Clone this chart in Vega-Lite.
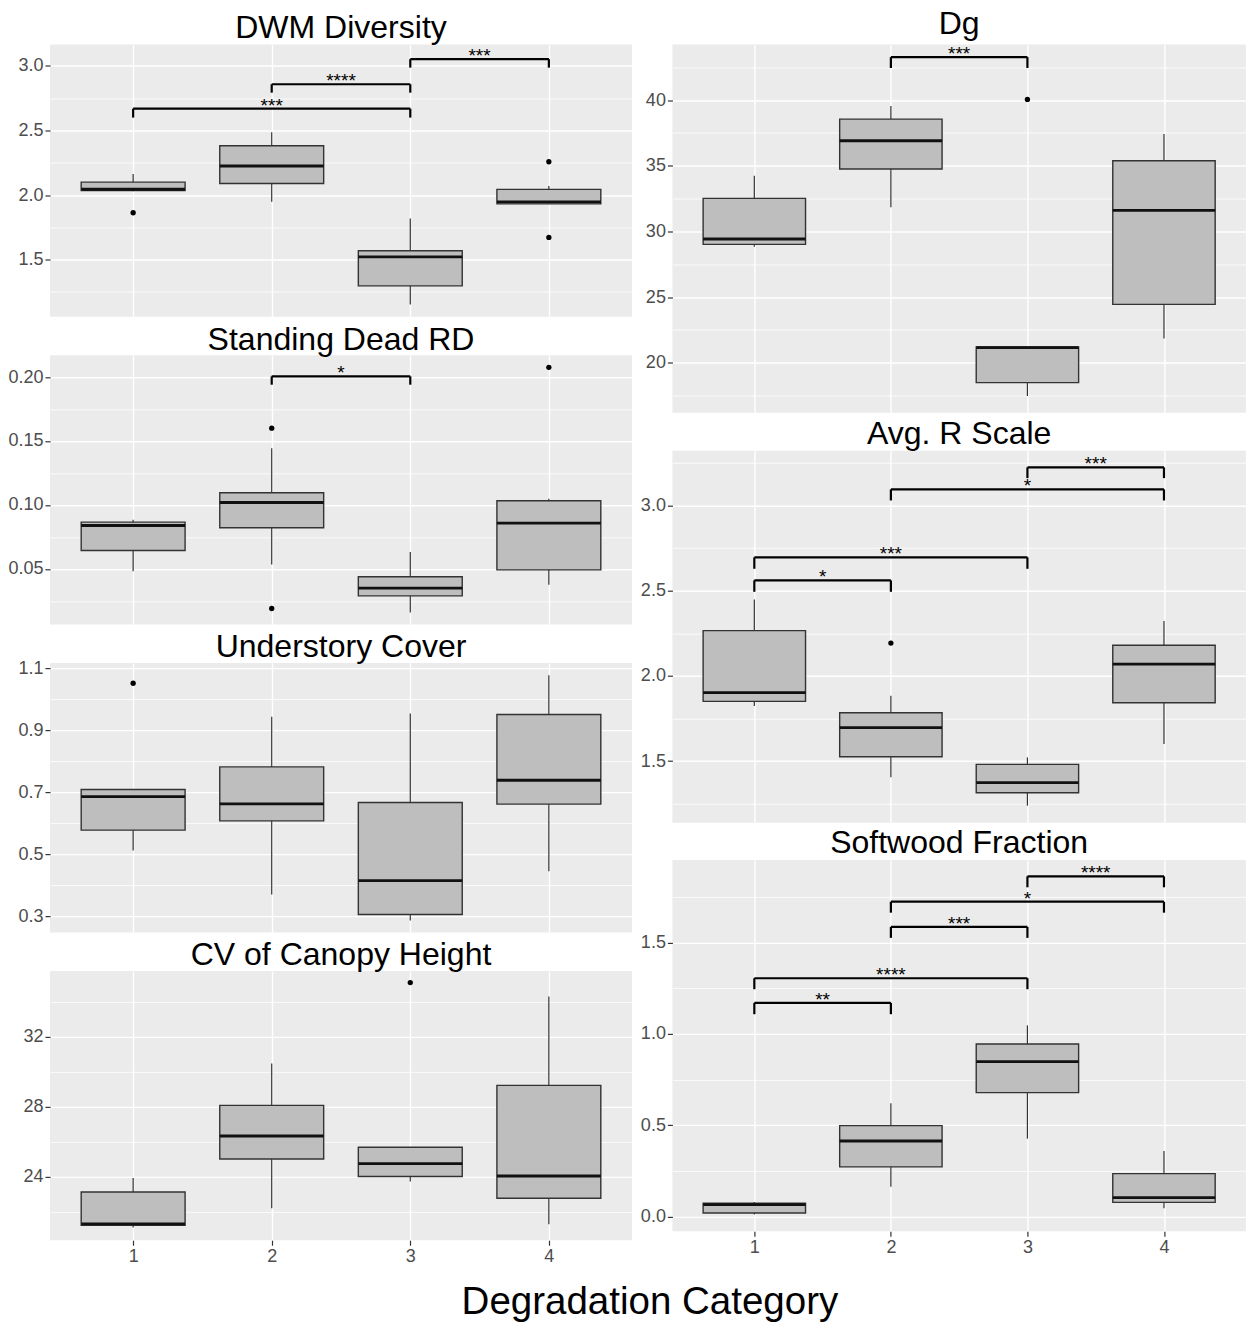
{
"$schema": "https://vega.github.io/schema/vega-lite/v6.json",
"padding": {"left": 7, "top": 7.5, "right": 2, "bottom": 0},
"title": {"text": "Degradation Category", "orient": "bottom", "fontSize": 38.5, "offset": 19, "dx": 23, "frame": "bounds", "anchor": "middle"},
"config": {
  "font": "Liberation Sans",
  "view": {"fill": "#EBEBEB", "stroke": null},
  "title": {"fontSize": 32, "fontWeight": "normal", "color": "#000000", "frame": "group", "anchor": "middle"},
  "axis": {"labelFontSize": 18, "labelColor": "#4D4D4D", "tickColor": "#333333", "tickSize": 5, "tickWidth": 1.2, "labelPadding": 2, "gridColor": "#FFFFFF", "gridWidth": 1.4, "domain": false},
  "axisLeft": {"minExtent": 37, "maxExtent": 37}
},
"datasets": {
  "boxes": [
    {"panel":"DWM","cat":1,"lo":2.03,"q1":2.035,"med":2.045,"q3":2.10,"hi":2.163},
    {"panel":"DWM","cat":2,"lo":1.948,"q1":2.09,"med":2.225,"q3":2.382,"hi":2.486},
    {"panel":"DWM","cat":3,"lo":1.152,"q1":1.297,"med":1.522,"q3":1.569,"hi":1.819},
    {"panel":"DWM","cat":4,"lo":1.93,"q1":1.932,"med":1.948,"q3":2.044,"hi":2.07},
    {"panel":"SDRD","cat":1,"lo":0.0482,"q1":0.0644,"med":0.0839,"q3":0.0865,"hi":0.0884},
    {"panel":"SDRD","cat":2,"lo":0.0534,"q1":0.0821,"med":0.1019,"q3":0.1095,"hi":0.1444},
    {"panel":"SDRD","cat":3,"lo":0.0159,"q1":0.0289,"med":0.0349,"q3":0.0438,"hi":0.0631},
    {"panel":"SDRD","cat":4,"lo":0.0375,"q1":0.0492,"med":0.0858,"q3":0.1032,"hi":0.1048},
    {"panel":"UC","cat":1,"lo":0.512,"q1":0.578,"med":0.686,"q3":0.709,"hi":0.709},
    {"panel":"UC","cat":2,"lo":0.370,"q1":0.608,"med":0.663,"q3":0.782,"hi":0.944},
    {"panel":"UC","cat":3,"lo":0.286,"q1":0.306,"med":0.415,"q3":0.667,"hi":0.954},
    {"panel":"UC","cat":4,"lo":0.445,"q1":0.662,"med":0.739,"q3":0.951,"hi":1.078},
    {"panel":"CV","cat":1,"lo":21.11,"q1":21.24,"med":21.32,"q3":23.14,"hi":23.94},
    {"panel":"CV","cat":2,"lo":22.21,"q1":25.02,"med":26.33,"q3":28.08,"hi":30.46},
    {"panel":"CV","cat":3,"lo":23.73,"q1":24.02,"med":24.76,"q3":25.69,"hi":25.69},
    {"panel":"CV","cat":4,"lo":21.30,"q1":22.78,"med":24.05,"q3":29.22,"hi":34.28},
    {"panel":"Dg","cat":1,"lo":28.83,"q1":29.01,"med":29.42,"q3":32.51,"hi":34.24},
    {"panel":"Dg","cat":2,"lo":31.83,"q1":34.75,"med":36.90,"q3":38.55,"hi":39.54},
    {"panel":"Dg","cat":3,"lo":17.46,"q1":18.48,"med":21.14,"q3":21.19,"hi":21.19},
    {"panel":"Dg","cat":4,"lo":21.85,"q1":24.44,"med":31.60,"q3":35.38,"hi":37.41},
    {"panel":"AR","cat":1,"lo":1.823,"q1":1.850,"med":1.901,"q3":2.265,"hi":2.448},
    {"panel":"AR","cat":2,"lo":1.404,"q1":1.525,"med":1.696,"q3":1.783,"hi":1.883},
    {"panel":"AR","cat":3,"lo":1.238,"q1":1.314,"med":1.373,"q3":1.480,"hi":1.521},
    {"panel":"AR","cat":4,"lo":1.600,"q1":1.842,"med":2.069,"q3":2.179,"hi":2.321},
    {"panel":"SW","cat":1,"lo":0.011,"q1":0.020,"med":0.066,"q3":0.073,"hi":0.080},
    {"panel":"SW","cat":2,"lo":0.164,"q1":0.272,"med":0.414,"q3":0.498,"hi":0.620},
    {"panel":"SW","cat":3,"lo":0.427,"q1":0.679,"med":0.849,"q3":0.945,"hi":1.047},
    {"panel":"SW","cat":4,"lo":0.046,"q1":0.078,"med":0.104,"q3":0.235,"hi":0.359}
  ],
  "outliers": [
    {"panel":"DWM","cat":1,"v":1.863},
    {"panel":"DWM","cat":4,"v":2.258},
    {"panel":"DWM","cat":4,"v":1.672},
    {"panel":"SDRD","cat":2,"v":0.160},
    {"panel":"SDRD","cat":2,"v":0.019},
    {"panel":"SDRD","cat":4,"v":0.2076},
    {"panel":"UC","cat":1,"v":1.052},
    {"panel":"CV","cat":3,"v":35.08},
    {"panel":"Dg","cat":3,"v":40.05},
    {"panel":"AR","cat":2,"v":2.192}
  ],
  "brackets": [
    {"panel":"DWM","a":1,"b":3,"mid":2,"y":2.669,"tip":2.60,"label":"***"},
    {"panel":"DWM","a":2,"b":3,"mid":2.5,"y":2.858,"tip":2.793,"label":"****"},
    {"panel":"DWM","a":3,"b":4,"mid":3.5,"y":3.052,"tip":2.987,"label":"***"},
    {"panel":"SDRD","a":2,"b":3,"mid":2.5,"y":0.2005,"tip":0.194,"label":"*"},
    {"panel":"Dg","a":2,"b":3,"mid":2.5,"y":43.27,"tip":42.44,"label":"***"},
    {"panel":"AR","a":1,"b":2,"mid":1.5,"y":2.560,"tip":2.493,"label":"*"},
    {"panel":"AR","a":1,"b":3,"mid":2,"y":2.695,"tip":2.628,"label":"***"},
    {"panel":"AR","a":2,"b":4,"mid":3,"y":3.094,"tip":3.029,"label":"*"},
    {"panel":"AR","a":3,"b":4,"mid":3.5,"y":3.223,"tip":3.160,"label":"***"},
    {"panel":"SW","a":1,"b":2,"mid":1.5,"y":1.170,"tip":1.108,"label":"**"},
    {"panel":"SW","a":1,"b":3,"mid":2,"y":1.305,"tip":1.245,"label":"****"},
    {"panel":"SW","a":2,"b":3,"mid":2.5,"y":1.586,"tip":1.526,"label":"***"},
    {"panel":"SW","a":2,"b":4,"mid":3,"y":1.724,"tip":1.664,"label":"*"},
    {"panel":"SW","a":3,"b":4,"mid":3.5,"y":1.863,"tip":1.803,"label":"****"}
  ]
},
"columns": 2,
"align": "none",
"spacing": 3.4,
"concat": [
 {"columns": 1, "align": "each", "spacing": 5.8, "concat": [
  {"title": {"text": "DWM Diversity", "offset": -0.8}, "width": 582, "height": 272.2,
   "resolve": {"axis": {"y": "independent"}},
   "layer": [
    {"data": {"name": "boxes"}, "transform": [{"filter": "datum.panel === 'DWM'"}],
     "mark": {"type": "rule", "color": "#333333", "strokeWidth": 1.2},
     "encoding": {
      "x": {"field": "cat", "type": "quantitative", "title": null, "scale": {"domain": [0.4, 4.6], "nice": false, "zero": false, "padding": 0}, "axis": {"values": [1,2,3,4], "grid": true, "labels": false, "ticks": false, "domain": false}},
      "y": {"field": "lo", "type": "quantitative", "title": null, "scale": {"domain": [1.058, 3.166], "nice": false, "zero": false}, "axis": {"values": [1.5,2.0,2.5,3.0], "format": ".1f", "grid": true, "orient": "left"}},
      "y2": {"field": "hi"}}},
    {"data": {"name": "boxes"}, "transform": [{"filter": "datum.panel === 'DWM'"}],
     "mark": {"type": "bar", "width": 103.9, "fill": "#BEBEBE", "stroke": "#333333", "strokeWidth": 1.4},
     "encoding": {
      "x": {"field": "cat", "type": "quantitative", "title": null},
      "y": {"field": "q1", "type": "quantitative", "title": null, "axis": {"orient": "right", "values": [1.25,1.75,2.25,2.75], "grid": true, "gridWidth": 0.8, "labels": false, "ticks": false, "domain": false, "minExtent": 0, "maxExtent": 0}},
      "y2": {"field": "q3"}}},
    {"data": {"name": "boxes"}, "transform": [{"filter": "datum.panel === 'DWM'"}],
     "mark": {"type": "tick", "orient": "horizontal", "size": 103.9, "thickness": 2.8, "color": "#111111", "opacity": 1},
     "encoding": {"x": {"field": "cat", "type": "quantitative", "title": null}, "y": {"field": "med", "type": "quantitative", "title": null, "axis": null}}},
    {"data": {"name": "outliers"}, "transform": [{"filter": "datum.panel === 'DWM'"}],
     "mark": {"type": "point", "filled": true, "color": "#000000", "size": 28, "opacity": 1},
     "encoding": {"x": {"field": "cat", "type": "quantitative", "title": null}, "y": {"field": "v", "type": "quantitative", "title": null, "axis": null}}},
    {"data": {"name": "brackets"}, "transform": [{"filter": "datum.panel === 'DWM'"}],
     "mark": {"type": "rule", "color": "#000000", "strokeWidth": 2.2},
     "encoding": {"x": {"field": "a", "type": "quantitative", "title": null}, "x2": {"field": "b"}, "y": {"field": "y", "type": "quantitative", "title": null, "axis": null}}},
    {"data": {"name": "brackets"}, "transform": [{"filter": "datum.panel === 'DWM'"}],
     "mark": {"type": "rule", "color": "#000000", "strokeWidth": 2.2},
     "encoding": {"x": {"field": "a", "type": "quantitative", "title": null}, "y": {"field": "y", "type": "quantitative", "title": null, "axis": null}, "y2": {"field": "tip"}}},
    {"data": {"name": "brackets"}, "transform": [{"filter": "datum.panel === 'DWM'"}],
     "mark": {"type": "rule", "color": "#000000", "strokeWidth": 2.2},
     "encoding": {"x": {"field": "b", "type": "quantitative", "title": null}, "y": {"field": "y", "type": "quantitative", "title": null, "axis": null}, "y2": {"field": "tip"}}},
    {"data": {"name": "brackets"}, "transform": [{"filter": "datum.panel === 'DWM'"}],
     "mark": {"type": "text", "fontSize": 19, "color": "#000000", "baseline": "alphabetic", "dy": 3},
     "encoding": {"x": {"field": "mid", "type": "quantitative", "title": null}, "y": {"field": "y", "type": "quantitative", "title": null, "axis": null}, "text": {"field": "label"}}}
   ]},
  {"title": {"text": "Standing Dead RD", "offset": -1.3}, "width": 582, "height": 269.3,
   "resolve": {"axis": {"y": "independent"}},
   "layer": [
    {"data": {"name": "boxes"}, "transform": [{"filter": "datum.panel === 'SDRD'"}],
     "mark": {"type": "rule", "color": "#333333", "strokeWidth": 1.2},
     "encoding": {
      "x": {"field": "cat", "type": "quantitative", "title": null, "scale": {"domain": [0.4, 4.6], "nice": false, "zero": false, "padding": 0}, "axis": {"values": [1,2,3,4], "grid": true, "labels": false, "ticks": false, "domain": false}},
      "y": {"field": "lo", "type": "quantitative", "title": null, "scale": {"domain": [0.0064, 0.217], "nice": false, "zero": false}, "axis": {"values": [0.05,0.10,0.15,0.20], "format": ".2f", "grid": true, "orient": "left"}},
      "y2": {"field": "hi"}}},
    {"data": {"name": "boxes"}, "transform": [{"filter": "datum.panel === 'SDRD'"}],
     "mark": {"type": "bar", "width": 103.9, "fill": "#BEBEBE", "stroke": "#333333", "strokeWidth": 1.4},
     "encoding": {
      "x": {"field": "cat", "type": "quantitative", "title": null},
      "y": {"field": "q1", "type": "quantitative", "title": null, "axis": {"orient": "right", "values": [0.025,0.075,0.125,0.175], "grid": true, "gridWidth": 0.8, "labels": false, "ticks": false, "domain": false, "minExtent": 0, "maxExtent": 0}},
      "y2": {"field": "q3"}}},
    {"data": {"name": "boxes"}, "transform": [{"filter": "datum.panel === 'SDRD'"}],
     "mark": {"type": "tick", "orient": "horizontal", "size": 103.9, "thickness": 2.8, "color": "#111111", "opacity": 1},
     "encoding": {"x": {"field": "cat", "type": "quantitative", "title": null}, "y": {"field": "med", "type": "quantitative", "title": null, "axis": null}}},
    {"data": {"name": "outliers"}, "transform": [{"filter": "datum.panel === 'SDRD'"}],
     "mark": {"type": "point", "filled": true, "color": "#000000", "size": 28, "opacity": 1},
     "encoding": {"x": {"field": "cat", "type": "quantitative", "title": null}, "y": {"field": "v", "type": "quantitative", "title": null, "axis": null}}},
    {"data": {"name": "brackets"}, "transform": [{"filter": "datum.panel === 'SDRD'"}],
     "mark": {"type": "rule", "color": "#000000", "strokeWidth": 2.2},
     "encoding": {"x": {"field": "a", "type": "quantitative", "title": null}, "x2": {"field": "b"}, "y": {"field": "y", "type": "quantitative", "title": null, "axis": null}}},
    {"data": {"name": "brackets"}, "transform": [{"filter": "datum.panel === 'SDRD'"}],
     "mark": {"type": "rule", "color": "#000000", "strokeWidth": 2.2},
     "encoding": {"x": {"field": "a", "type": "quantitative", "title": null}, "y": {"field": "y", "type": "quantitative", "title": null, "axis": null}, "y2": {"field": "tip"}}},
    {"data": {"name": "brackets"}, "transform": [{"filter": "datum.panel === 'SDRD'"}],
     "mark": {"type": "rule", "color": "#000000", "strokeWidth": 2.2},
     "encoding": {"x": {"field": "b", "type": "quantitative", "title": null}, "y": {"field": "y", "type": "quantitative", "title": null, "axis": null}, "y2": {"field": "tip"}}},
    {"data": {"name": "brackets"}, "transform": [{"filter": "datum.panel === 'SDRD'"}],
     "mark": {"type": "text", "fontSize": 19, "color": "#000000", "baseline": "alphabetic", "dy": 3},
     "encoding": {"x": {"field": "mid", "type": "quantitative", "title": null}, "y": {"field": "y", "type": "quantitative", "title": null, "axis": null}, "text": {"field": "label"}}}
   ]},
  {"title": {"text": "Understory Cover", "offset": -5}, "width": 582, "height": 269.3,
   "resolve": {"axis": {"y": "independent"}},
   "layer": [
    {"data": {"name": "boxes"}, "transform": [{"filter": "datum.panel === 'UC'"}],
     "mark": {"type": "rule", "color": "#333333", "strokeWidth": 1.2},
     "encoding": {
      "x": {"field": "cat", "type": "quantitative", "title": null, "scale": {"domain": [0.4, 4.6], "nice": false, "zero": false, "padding": 0}, "axis": {"values": [1,2,3,4], "grid": true, "labels": false, "ticks": false, "domain": false}},
      "y": {"field": "lo", "type": "quantitative", "title": null, "scale": {"domain": [0.248, 1.117], "nice": false, "zero": false}, "axis": {"values": [0.3,0.5,0.7,0.9,1.1], "format": ".1f", "grid": true, "orient": "left"}},
      "y2": {"field": "hi"}}},
    {"data": {"name": "boxes"}, "transform": [{"filter": "datum.panel === 'UC'"}],
     "mark": {"type": "bar", "width": 103.9, "fill": "#BEBEBE", "stroke": "#333333", "strokeWidth": 1.4},
     "encoding": {
      "x": {"field": "cat", "type": "quantitative", "title": null},
      "y": {"field": "q1", "type": "quantitative", "title": null, "axis": {"orient": "right", "values": [0.4,0.6,0.8,1.0], "grid": true, "gridWidth": 0.8, "labels": false, "ticks": false, "domain": false, "minExtent": 0, "maxExtent": 0}},
      "y2": {"field": "q3"}}},
    {"data": {"name": "boxes"}, "transform": [{"filter": "datum.panel === 'UC'"}],
     "mark": {"type": "tick", "orient": "horizontal", "size": 103.9, "thickness": 2.8, "color": "#111111", "opacity": 1},
     "encoding": {"x": {"field": "cat", "type": "quantitative", "title": null}, "y": {"field": "med", "type": "quantitative", "title": null, "axis": null}}},
    {"data": {"name": "outliers"}, "transform": [{"filter": "datum.panel === 'UC'"}],
     "mark": {"type": "point", "filled": true, "color": "#000000", "size": 28, "opacity": 1},
     "encoding": {"x": {"field": "cat", "type": "quantitative", "title": null}, "y": {"field": "v", "type": "quantitative", "title": null, "axis": null}}}
   ]},
  {"title": {"text": "CV of Canopy Height", "offset": -1.3}, "width": 582, "height": 269.3,
   "resolve": {"axis": {"y": "independent"}},
   "layer": [
    {"data": {"name": "boxes"}, "transform": [{"filter": "datum.panel === 'CV'"}],
     "mark": {"type": "rule", "color": "#333333", "strokeWidth": 1.2},
     "encoding": {
      "x": {"field": "cat", "type": "quantitative", "title": null, "scale": {"domain": [0.4, 4.6], "nice": false, "zero": false, "padding": 0}, "axis": {"values": [1,2,3,4], "format": "d", "grid": true, "labels": true, "ticks": true, "domain": false}},
      "y": {"field": "lo", "type": "quantitative", "title": null, "scale": {"domain": [20.39, 35.745], "nice": false, "zero": false}, "axis": {"values": [24,28,32], "format": "d", "grid": true, "orient": "left"}},
      "y2": {"field": "hi"}}},
    {"data": {"name": "boxes"}, "transform": [{"filter": "datum.panel === 'CV'"}],
     "mark": {"type": "bar", "width": 103.9, "fill": "#BEBEBE", "stroke": "#333333", "strokeWidth": 1.4},
     "encoding": {
      "x": {"field": "cat", "type": "quantitative", "title": null},
      "y": {"field": "q1", "type": "quantitative", "title": null, "axis": {"orient": "right", "values": [22,26,30,34], "grid": true, "gridWidth": 0.8, "labels": false, "ticks": false, "domain": false, "minExtent": 0, "maxExtent": 0}},
      "y2": {"field": "q3"}}},
    {"data": {"name": "boxes"}, "transform": [{"filter": "datum.panel === 'CV'"}],
     "mark": {"type": "tick", "orient": "horizontal", "size": 103.9, "thickness": 2.8, "color": "#111111", "opacity": 1},
     "encoding": {"x": {"field": "cat", "type": "quantitative", "title": null}, "y": {"field": "med", "type": "quantitative", "title": null, "axis": null}}},
    {"data": {"name": "outliers"}, "transform": [{"filter": "datum.panel === 'CV'"}],
     "mark": {"type": "point", "filled": true, "color": "#000000", "size": 28, "opacity": 1},
     "encoding": {"x": {"field": "cat", "type": "quantitative", "title": null}, "y": {"field": "v", "type": "quantitative", "title": null, "axis": null}}}
   ]}
 ]},
 {"columns": 1, "align": "each", "spacing": 4.2, "concat": [
  {"title": {"text": "Dg", "offset": 3.2}, "width": 573.5, "height": 368.2,
   "resolve": {"axis": {"y": "independent"}},
   "layer": [
    {"data": {"name": "boxes"}, "transform": [{"filter": "datum.panel === 'Dg'"}],
     "mark": {"type": "rule", "color": "#333333", "strokeWidth": 1.2},
     "encoding": {
      "x": {"field": "cat", "type": "quantitative", "title": null, "scale": {"domain": [0.4, 4.6], "nice": false, "zero": false, "padding": 0}, "axis": {"values": [1,2,3,4], "grid": true, "labels": false, "ticks": false, "domain": false}},
      "y": {"field": "lo", "type": "quantitative", "title": null, "scale": {"domain": [16.19, 44.231], "nice": false, "zero": false}, "axis": {"values": [20,25,30,35,40], "format": "d", "grid": true, "orient": "left"}},
      "y2": {"field": "hi"}}},
    {"data": {"name": "boxes"}, "transform": [{"filter": "datum.panel === 'Dg'"}],
     "mark": {"type": "bar", "width": 102.4, "fill": "#BEBEBE", "stroke": "#333333", "strokeWidth": 1.4},
     "encoding": {
      "x": {"field": "cat", "type": "quantitative", "title": null},
      "y": {"field": "q1", "type": "quantitative", "title": null, "axis": {"orient": "right", "values": [17.5,22.5,27.5,32.5,37.5,42.5], "grid": true, "gridWidth": 0.8, "labels": false, "ticks": false, "domain": false, "minExtent": 0, "maxExtent": 0}},
      "y2": {"field": "q3"}}},
    {"data": {"name": "boxes"}, "transform": [{"filter": "datum.panel === 'Dg'"}],
     "mark": {"type": "tick", "orient": "horizontal", "size": 102.4, "thickness": 2.8, "color": "#111111", "opacity": 1},
     "encoding": {"x": {"field": "cat", "type": "quantitative", "title": null}, "y": {"field": "med", "type": "quantitative", "title": null, "axis": null}}},
    {"data": {"name": "outliers"}, "transform": [{"filter": "datum.panel === 'Dg'"}],
     "mark": {"type": "point", "filled": true, "color": "#000000", "size": 28, "opacity": 1},
     "encoding": {"x": {"field": "cat", "type": "quantitative", "title": null}, "y": {"field": "v", "type": "quantitative", "title": null, "axis": null}}},
    {"data": {"name": "brackets"}, "transform": [{"filter": "datum.panel === 'Dg'"}],
     "mark": {"type": "rule", "color": "#000000", "strokeWidth": 2.2},
     "encoding": {"x": {"field": "a", "type": "quantitative", "title": null}, "x2": {"field": "b"}, "y": {"field": "y", "type": "quantitative", "title": null, "axis": null}}},
    {"data": {"name": "brackets"}, "transform": [{"filter": "datum.panel === 'Dg'"}],
     "mark": {"type": "rule", "color": "#000000", "strokeWidth": 2.2},
     "encoding": {"x": {"field": "a", "type": "quantitative", "title": null}, "y": {"field": "y", "type": "quantitative", "title": null, "axis": null}, "y2": {"field": "tip"}}},
    {"data": {"name": "brackets"}, "transform": [{"filter": "datum.panel === 'Dg'"}],
     "mark": {"type": "rule", "color": "#000000", "strokeWidth": 2.2},
     "encoding": {"x": {"field": "b", "type": "quantitative", "title": null}, "y": {"field": "y", "type": "quantitative", "title": null, "axis": null}, "y2": {"field": "tip"}}},
    {"data": {"name": "brackets"}, "transform": [{"filter": "datum.panel === 'Dg'"}],
     "mark": {"type": "text", "fontSize": 19, "color": "#000000", "baseline": "alphabetic", "dy": 3},
     "encoding": {"x": {"field": "mid", "type": "quantitative", "title": null}, "y": {"field": "y", "type": "quantitative", "title": null, "axis": null}, "text": {"field": "label"}}}
   ]},
  {"title": {"text": "Avg. R Scale", "offset": 0}, "width": 573.5, "height": 372,
   "resolve": {"axis": {"y": "independent"}},
   "layer": [
    {"data": {"name": "boxes"}, "transform": [{"filter": "datum.panel === 'AR'"}],
     "mark": {"type": "rule", "color": "#333333", "strokeWidth": 1.2},
     "encoding": {
      "x": {"field": "cat", "type": "quantitative", "title": null, "scale": {"domain": [0.4, 4.6], "nice": false, "zero": false, "padding": 0}, "axis": {"values": [1,2,3,4], "grid": true, "labels": false, "ticks": false, "domain": false}},
      "y": {"field": "lo", "type": "quantitative", "title": null, "scale": {"domain": [1.138, 3.321], "nice": false, "zero": false}, "axis": {"values": [1.5,2.0,2.5,3.0], "format": ".1f", "grid": true, "orient": "left"}},
      "y2": {"field": "hi"}}},
    {"data": {"name": "boxes"}, "transform": [{"filter": "datum.panel === 'AR'"}],
     "mark": {"type": "bar", "width": 102.4, "fill": "#BEBEBE", "stroke": "#333333", "strokeWidth": 1.4},
     "encoding": {
      "x": {"field": "cat", "type": "quantitative", "title": null},
      "y": {"field": "q1", "type": "quantitative", "title": null, "axis": {"orient": "right", "values": [1.25,1.75,2.25,2.75,3.25], "grid": true, "gridWidth": 0.8, "labels": false, "ticks": false, "domain": false, "minExtent": 0, "maxExtent": 0}},
      "y2": {"field": "q3"}}},
    {"data": {"name": "boxes"}, "transform": [{"filter": "datum.panel === 'AR'"}],
     "mark": {"type": "tick", "orient": "horizontal", "size": 102.4, "thickness": 2.8, "color": "#111111", "opacity": 1},
     "encoding": {"x": {"field": "cat", "type": "quantitative", "title": null}, "y": {"field": "med", "type": "quantitative", "title": null, "axis": null}}},
    {"data": {"name": "outliers"}, "transform": [{"filter": "datum.panel === 'AR'"}],
     "mark": {"type": "point", "filled": true, "color": "#000000", "size": 28, "opacity": 1},
     "encoding": {"x": {"field": "cat", "type": "quantitative", "title": null}, "y": {"field": "v", "type": "quantitative", "title": null, "axis": null}}},
    {"data": {"name": "brackets"}, "transform": [{"filter": "datum.panel === 'AR'"}],
     "mark": {"type": "rule", "color": "#000000", "strokeWidth": 2.2},
     "encoding": {"x": {"field": "a", "type": "quantitative", "title": null}, "x2": {"field": "b"}, "y": {"field": "y", "type": "quantitative", "title": null, "axis": null}}},
    {"data": {"name": "brackets"}, "transform": [{"filter": "datum.panel === 'AR'"}],
     "mark": {"type": "rule", "color": "#000000", "strokeWidth": 2.2},
     "encoding": {"x": {"field": "a", "type": "quantitative", "title": null}, "y": {"field": "y", "type": "quantitative", "title": null, "axis": null}, "y2": {"field": "tip"}}},
    {"data": {"name": "brackets"}, "transform": [{"filter": "datum.panel === 'AR'"}],
     "mark": {"type": "rule", "color": "#000000", "strokeWidth": 2.2},
     "encoding": {"x": {"field": "b", "type": "quantitative", "title": null}, "y": {"field": "y", "type": "quantitative", "title": null, "axis": null}, "y2": {"field": "tip"}}},
    {"data": {"name": "brackets"}, "transform": [{"filter": "datum.panel === 'AR'"}],
     "mark": {"type": "text", "fontSize": 19, "color": "#000000", "baseline": "alphabetic", "dy": 3},
     "encoding": {"x": {"field": "mid", "type": "quantitative", "title": null}, "y": {"field": "y", "type": "quantitative", "title": null, "axis": null}, "text": {"field": "label"}}}
   ]},
  {"title": {"text": "Softwood Fraction", "offset": 0}, "width": 573.5, "height": 371.3,
   "resolve": {"axis": {"y": "independent"}},
   "layer": [
    {"data": {"name": "boxes"}, "transform": [{"filter": "datum.panel === 'SW'"}],
     "mark": {"type": "rule", "color": "#333333", "strokeWidth": 1.2},
     "encoding": {
      "x": {"field": "cat", "type": "quantitative", "title": null, "scale": {"domain": [0.4, 4.6], "nice": false, "zero": false, "padding": 0}, "axis": {"values": [1,2,3,4], "format": "d", "grid": true, "labels": true, "ticks": true, "domain": false}},
      "y": {"field": "lo", "type": "quantitative", "title": null, "scale": {"domain": [-0.080, 1.953], "nice": false, "zero": false}, "axis": {"values": [0.0,0.5,1.0,1.5], "format": ".1f", "grid": true, "orient": "left"}},
      "y2": {"field": "hi"}}},
    {"data": {"name": "boxes"}, "transform": [{"filter": "datum.panel === 'SW'"}],
     "mark": {"type": "bar", "width": 102.4, "fill": "#BEBEBE", "stroke": "#333333", "strokeWidth": 1.4},
     "encoding": {
      "x": {"field": "cat", "type": "quantitative", "title": null},
      "y": {"field": "q1", "type": "quantitative", "title": null, "axis": {"orient": "right", "values": [0.25,0.75,1.25,1.75], "grid": true, "gridWidth": 0.8, "labels": false, "ticks": false, "domain": false, "minExtent": 0, "maxExtent": 0}},
      "y2": {"field": "q3"}}},
    {"data": {"name": "boxes"}, "transform": [{"filter": "datum.panel === 'SW'"}],
     "mark": {"type": "tick", "orient": "horizontal", "size": 102.4, "thickness": 2.8, "color": "#111111", "opacity": 1},
     "encoding": {"x": {"field": "cat", "type": "quantitative", "title": null}, "y": {"field": "med", "type": "quantitative", "title": null, "axis": null}}},
    {"data": {"name": "brackets"}, "transform": [{"filter": "datum.panel === 'SW'"}],
     "mark": {"type": "rule", "color": "#000000", "strokeWidth": 2.2},
     "encoding": {"x": {"field": "a", "type": "quantitative", "title": null}, "x2": {"field": "b"}, "y": {"field": "y", "type": "quantitative", "title": null, "axis": null}}},
    {"data": {"name": "brackets"}, "transform": [{"filter": "datum.panel === 'SW'"}],
     "mark": {"type": "rule", "color": "#000000", "strokeWidth": 2.2},
     "encoding": {"x": {"field": "a", "type": "quantitative", "title": null}, "y": {"field": "y", "type": "quantitative", "title": null, "axis": null}, "y2": {"field": "tip"}}},
    {"data": {"name": "brackets"}, "transform": [{"filter": "datum.panel === 'SW'"}],
     "mark": {"type": "rule", "color": "#000000", "strokeWidth": 2.2},
     "encoding": {"x": {"field": "b", "type": "quantitative", "title": null}, "y": {"field": "y", "type": "quantitative", "title": null, "axis": null}, "y2": {"field": "tip"}}},
    {"data": {"name": "brackets"}, "transform": [{"filter": "datum.panel === 'SW'"}],
     "mark": {"type": "text", "fontSize": 19, "color": "#000000", "baseline": "alphabetic", "dy": 3},
     "encoding": {"x": {"field": "mid", "type": "quantitative", "title": null}, "y": {"field": "y", "type": "quantitative", "title": null, "axis": null}, "text": {"field": "label"}}}
   ]}
 ]}
]
}
